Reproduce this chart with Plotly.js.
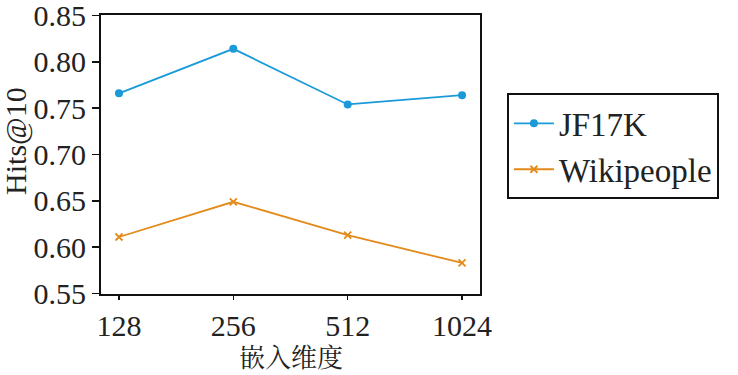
<!DOCTYPE html>
<html><head><meta charset="utf-8">
<script src="https://cdn.plot.ly/plotly-3.0.1.min.js"></script>
<style>body{margin:0;background:#fff}#c{width:738px;height:375px}</style>
</head><body><div id="c"></div>
<script>
const dims = ['128','256','512','1024'];
const jf17k = [0.766, 0.814, 0.754, 0.764];
const wikipeople = [0.611, 0.649, 0.613, 0.583];
const yTicks = [0.55,0.60,0.65,0.70,0.75,0.80,0.85];
const yTickText = ['0.55','0.60','0.65','0.70','0.75','0.80','0.85'];

const serif = 'Liberation Serif, DejaVu Serif, serif';
const traces = [
  {x: dims, y: jf17k, name: 'JF17K', type: 'scatter', mode: 'lines+markers',
   line: {color: '#1a9ad9', width: 1.8}, marker: {symbol: 'circle', size: 8, color: '#1a9ad9'}},
  {x: dims, y: wikipeople, name: 'Wikipeople', type: 'scatter', mode: 'lines+markers',
   line: {color: '#e38a1a', width: 1.8}, marker: {symbol: 'x-thin', size: 7, line: {color: '#e38a1a', width: 1.8}, color: '#e38a1a'}}
];
const layout = {
  width: 738, height: 375,
  margin: {l: 101, r: 258, t: 15, b: 81},
  paper_bgcolor: '#fff', plot_bgcolor: '#fff',
  font: {family: serif, color: '#222', size: 30},
  showlegend: true,
  legend: {x: 1.071, y: 0.529, xanchor: 'left', yanchor: 'middle', bordercolor: '#111', borderwidth: 2,
           font: {family: serif, size: 33, color: '#222'}, itemwidth: 40, tracegroupgap: 0},
  xaxis: {type: 'category', range: [-0.157, 3.157], showline: true, mirror: true, linecolor: '#111', linewidth: 2,
          ticks: 'outside', ticklen: 4, tickwidth: 1.5, tickcolor: '#111', showgrid: false, zeroline: false,
          tickfont: {family: serif, size: 30, color: '#222'}},
  yaxis: {range: [0.5495, 0.8505], tickvals: yTicks, ticktext: yTickText, showline: true, mirror: true, linecolor: '#111', linewidth: 2,
          ticks: 'outside', ticklen: 7, tickwidth: 1.5, tickcolor: '#111', showgrid: false, zeroline: false,
          ticklabeloverflow: 'allow',
          tickfont: {family: serif, size: 30, color: '#222'}},
  annotations: [
    {text: '嵌入维度', xref: 'paper', yref: 'paper', x: 0.5, y: -0.22, xanchor: 'center', yanchor: 'middle',
     showarrow: false, font: {family: 'Noto Serif CJK SC, Noto Sans CJK SC, serif', size: 26, color: '#222'}},
    {text: 'Hits@10', xref: 'paper', yref: 'paper', x: -0.226, y: 0.55, xanchor: 'center', yanchor: 'middle',
     textangle: -90, showarrow: false, font: {family: serif, size: 30, color: '#222'}}
  ]
};
Plotly.newPlot('c', traces, layout, {displayModeBar: false, staticPlot: true});
</script></body></html>
